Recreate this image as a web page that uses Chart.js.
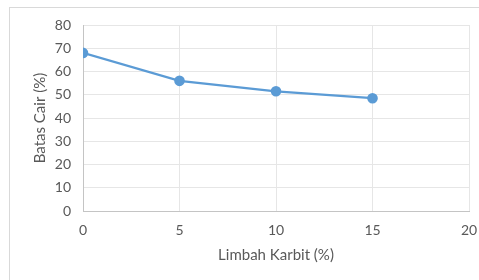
<!DOCTYPE html>
<html><head><meta charset="utf-8">
<script src="https://cdn.jsdelivr.net/npm/chart.js@4/dist/chart.umd.min.js"></script>
<style>
html,body{margin:0;padding:0;background:#fff;}
#wrap{position:relative;width:479px;height:280px;overflow:hidden;}
#frame{position:absolute;left:9px;top:7px;width:500px;height:300px;border:1px solid #d9d9d9;box-sizing:border-box;}
canvas{position:absolute;left:0;top:0;}
</style></head>
<body><div id="wrap"><div id="frame"></div><canvas id="c" width="479" height="280"></canvas></div>
<script>
const xValues = [0, 5, 10, 15];
const yValues = [68, 56, 51.5, 48.5];
const xTicks = [0, 5, 10, 15, 20];
const yTicks = [0, 10, 20, 30, 40, 50, 60, 70, 80];
const xTitle = 'Limbah Karbit (%)';
const yTitle = 'Batas Cair (%)';

const pts = xValues.map((x, i) => ({x: x, y: yValues[i]}));
const tickFont = {family: 'Lato, "Open Sans", sans-serif', size: 14};
const titleFont = {family: 'Lato, "Open Sans", sans-serif', size: 15};
new Chart(document.getElementById('c'), {
  type: 'scatter',
  data: {datasets: [{data: pts, showLine: true, borderColor: '#5B9BD5', backgroundColor: '#5B9BD5',
    borderWidth: 2.25, pointRadius: 4.2, pointHoverRadius: 4.2, tension: 0}]},
  options: {
    responsive: false, animation: false, devicePixelRatio: 1,
    layout: {padding: {left: 0, right: 0, top: 25, bottom: 0}},
    plugins: {legend: {display: false}, tooltip: {enabled: false}},
    scales: {
      x: {type: 'linear', min: 0, max: 20,
        afterBuildTicks: s => { s.ticks = xTicks.map(v => ({value: v})); },
        afterFit: s => { s.height = 69; s.paddingRight = 10; s.paddingLeft = 0; },
        grid: {color: '#e6e6e6', lineWidth: 1, drawTicks: false},
        border: {color: '#c4c4c4'},
        ticks: {color: '#595959', font: tickFont, padding: 11, maxRotation: 0},
        title: {display: true, text: xTitle, color: '#595959', font: titleFont, padding: {top: 0, bottom: 16}}
      },
      y: {type: 'linear', min: 0, max: 80,
        afterBuildTicks: s => { s.ticks = yTicks.map(v => ({value: v})); },
        afterFit: s => { s.width = 83; },
        grid: {color: '#e6e6e6', lineWidth: 1, drawTicks: false},
        border: {color: '#c4c4c4'},
        ticks: {color: '#595959', font: tickFont, padding: 12},
        title: {display: true, text: yTitle, color: '#595959', font: titleFont, padding: {top: 31, bottom: 0}}
      }
    }
  }
});
</script></body></html>
